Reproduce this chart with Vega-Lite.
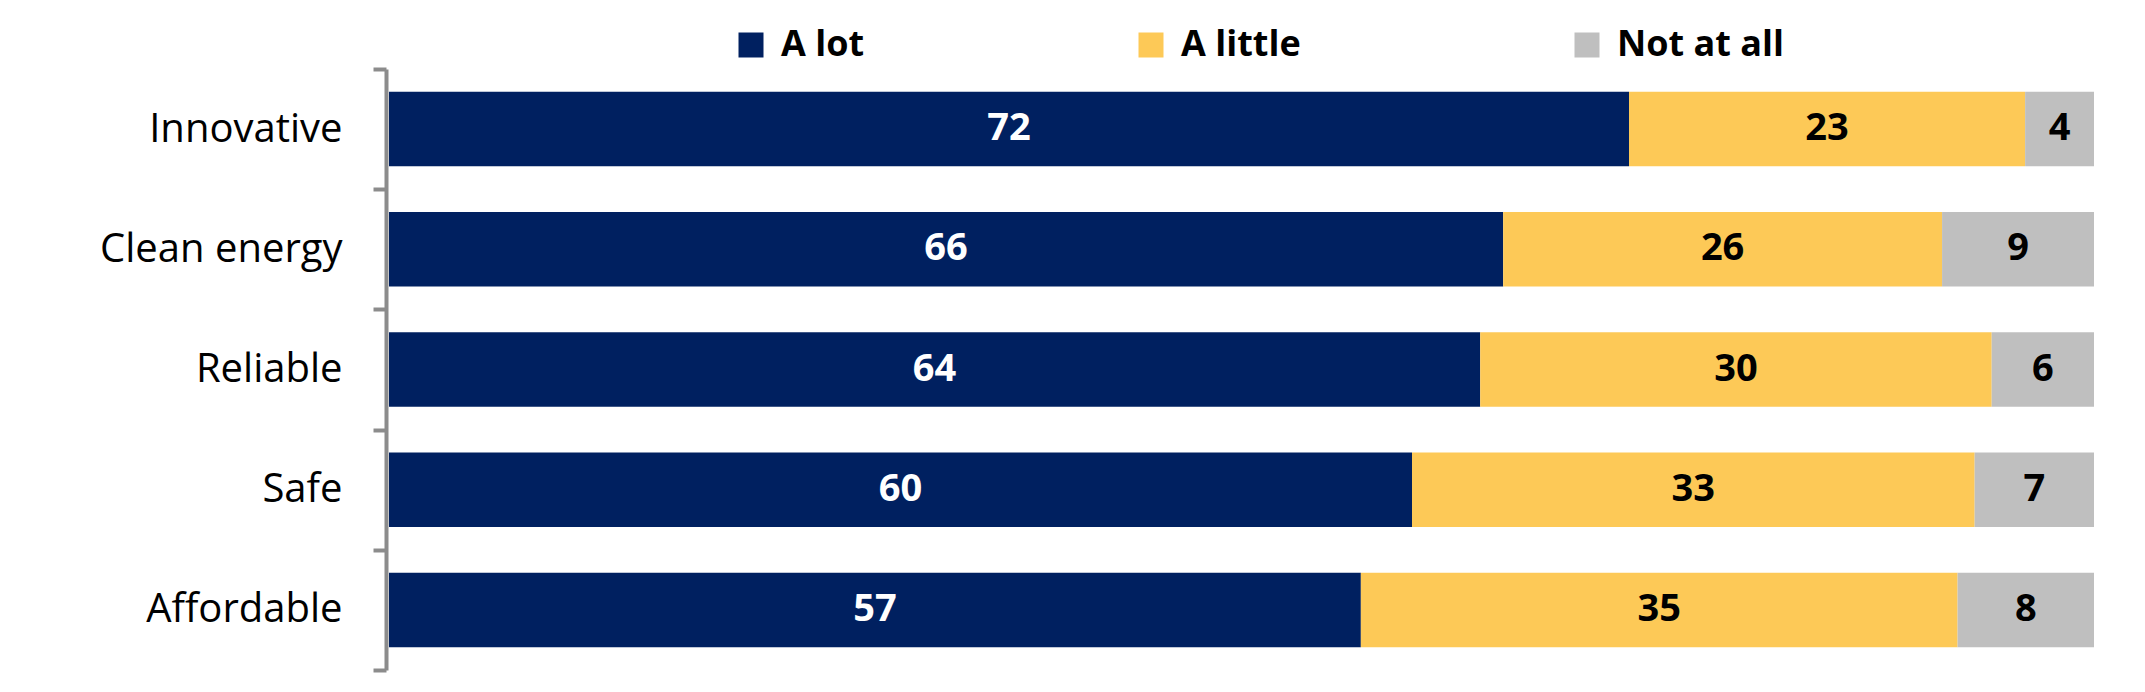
{
  "$schema": "https://vega.github.io/schema/vega-lite/v6.json",
  "width": 1705,
  "height": 601,
  "autosize": "none",
  "padding": {"left": 389, "top": 69, "right": 51, "bottom": 22},
  "background": "white",
  "config": {"view": {"stroke": null}, "font": "Open Sans"},
  "data": {
    "values": [
      {"item": "Innovative", "response": "A lot", "rank": 1, "value": 72},
      {"item": "Innovative", "response": "A little", "rank": 2, "value": 23},
      {"item": "Innovative", "response": "Not at all", "rank": 3, "value": 4},
      {"item": "Clean energy", "response": "A lot", "rank": 1, "value": 66},
      {"item": "Clean energy", "response": "A little", "rank": 2, "value": 26},
      {"item": "Clean energy", "response": "Not at all", "rank": 3, "value": 9},
      {"item": "Reliable", "response": "A lot", "rank": 1, "value": 64},
      {"item": "Reliable", "response": "A little", "rank": 2, "value": 30},
      {"item": "Reliable", "response": "Not at all", "rank": 3, "value": 6},
      {"item": "Safe", "response": "A lot", "rank": 1, "value": 60},
      {"item": "Safe", "response": "A little", "rank": 2, "value": 33},
      {"item": "Safe", "response": "Not at all", "rank": 3, "value": 7},
      {"item": "Affordable", "response": "A lot", "rank": 1, "value": 57},
      {"item": "Affordable", "response": "A little", "rank": 2, "value": 35},
      {"item": "Affordable", "response": "Not at all", "rank": 3, "value": 8}
    ]
  },
  "encoding": {
    "y": {
      "field": "item",
      "type": "nominal",
      "sort": ["Innovative", "Clean energy", "Reliable", "Safe", "Affordable"],
      "scale": {"paddingInner": 0, "paddingOuter": 0},
      "axis": {
        "title": null,
        "orient": "left",
        "tickBand": "extent",
        "offset": 3,
        "domainColor": "#8c8c8c",
        "domainWidth": 4,
        "tickColor": "#8c8c8c",
        "tickWidth": 4,
        "tickSize": 13,
        "labelFont": "Open Sans",
        "labelFontSize": 40,
        "labelColor": "black",
        "labelPadding": 31,
        "labelLimit": 400
      }
    },
    "x": {
      "field": "value",
      "type": "quantitative",
      "stack": "normalize",
      "scale": {"domain": [0, 1], "nice": false},
      "axis": null
    },
    "order": {"field": "rank", "type": "quantitative"}
  },
  "layer": [
    {
      "mark": {"type": "bar", "height": {"band": 0.62}},
      "encoding": {
        "color": {
          "field": "response",
          "type": "nominal",
          "scale": {
            "domain": ["A lot", "A little", "Not at all"],
            "range": ["#002060", "#FDC957", "#BFBFBF"]
          },
          "legend": {
            "title": null,
            "orient": "none",
            "direction": "horizontal",
            "legendX": 344,
            "legendY": -42,
            "symbolType": "square",
            "symbolSize": 625,
            "symbolStrokeWidth": 0,
            "symbolOpacity": 1,
            "labelFont": "Open Sans",
            "labelFontSize": 36,
            "labelFontWeight": "bold",
            "labelColor": "black",
            "labelOffset": 12,
            "columnPadding": 268,
            "labelLimit": 400
          }
        }
      }
    },
    {
      "mark": {"type": "text", "fontSize": 38, "fontWeight": "bold", "font": "Open Sans", "baseline": "middle", "align": "center"},
      "encoding": {
        "x": {"field": "value", "type": "quantitative", "stack": "normalize", "bandPosition": 0.5},
        "text": {"field": "value", "type": "quantitative"},
        "color": {"condition": {"test": "datum.response === 'A lot'", "value": "white"}, "value": "black"}
      }
    }
  ]
}
